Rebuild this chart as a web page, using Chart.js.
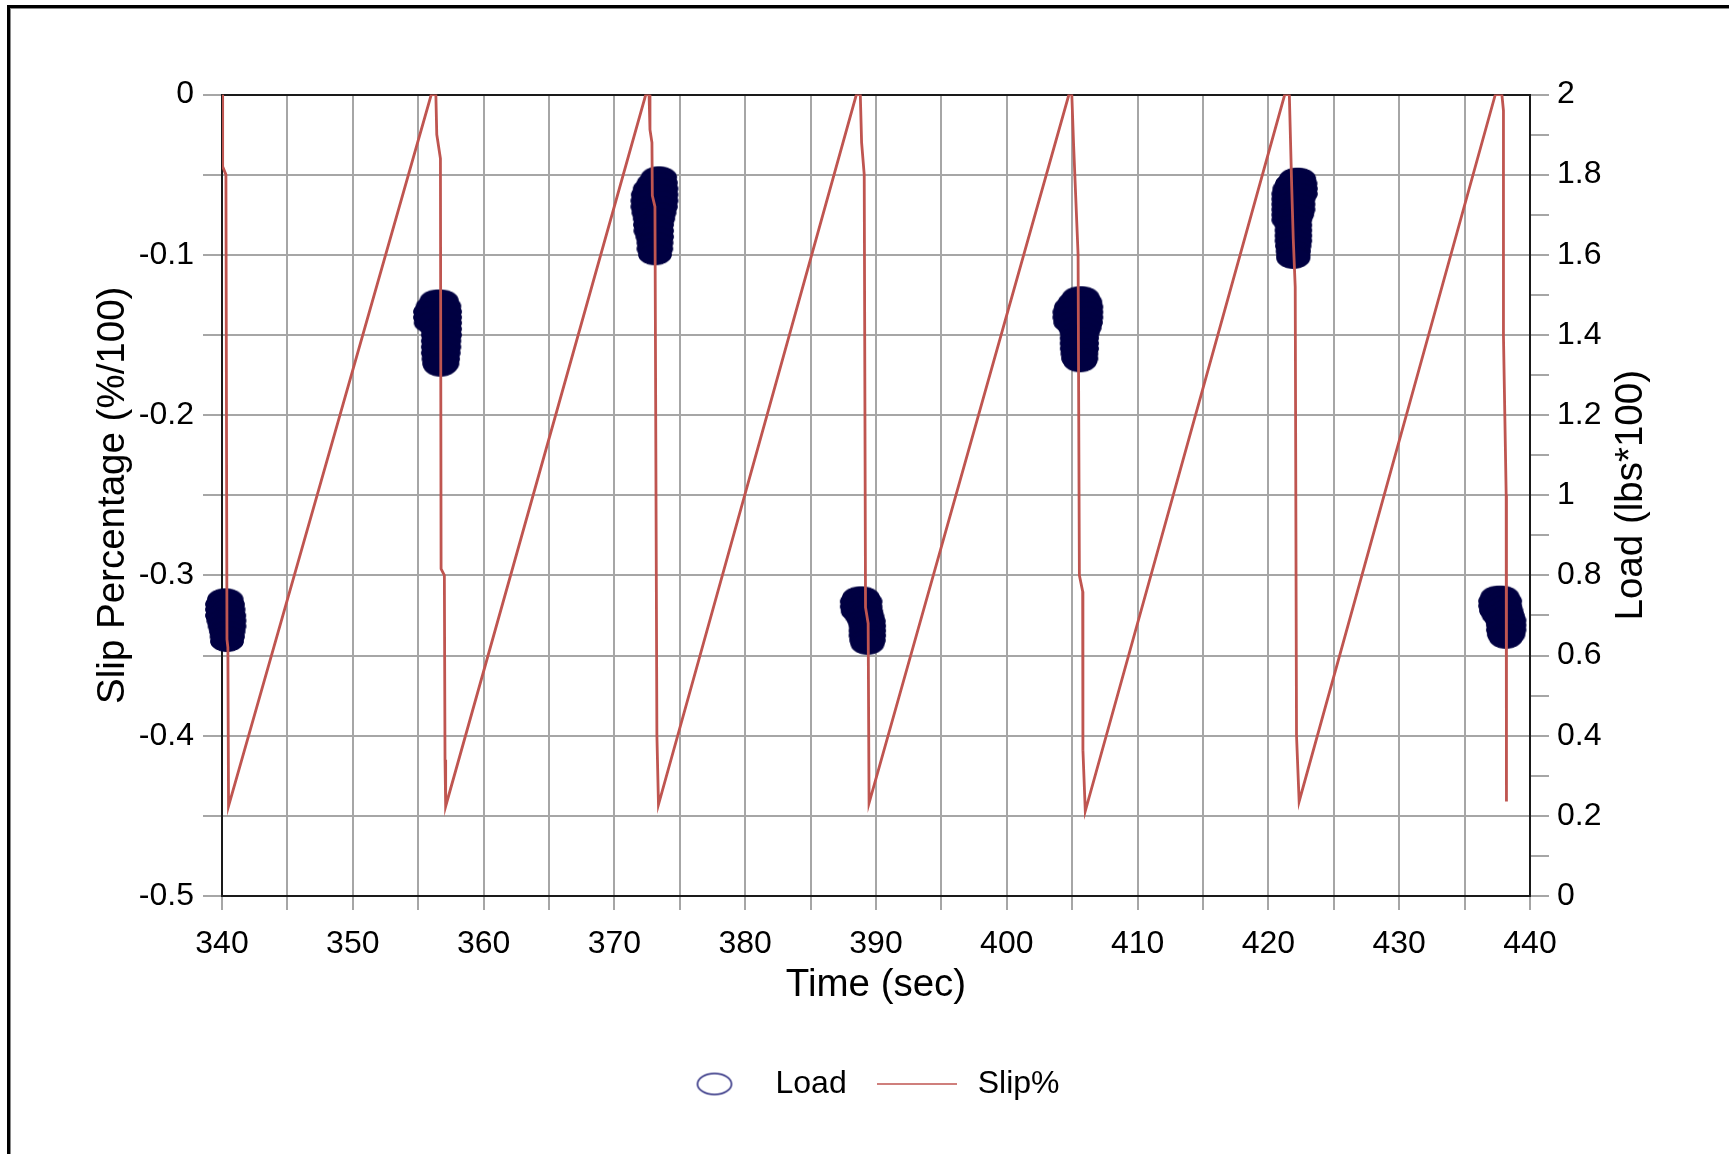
<!DOCTYPE html>
<html><head><meta charset="utf-8">
<script src="https://cdn.jsdelivr.net/npm/chart.js@4.4.1/dist/chart.umd.min.js"></script>
<style>
html,body{margin:0;padding:0;background:#fff;overflow:hidden;}
#wrap{position:relative;width:1729px;height:1154px;overflow:hidden;background:#fff;}
#c{position:absolute;left:0;top:0;}
.f1{position:absolute;left:7px;top:5px;width:3000px;height:3000px;border-left:3px solid #000;border-top:3px solid #000;}
.f2{position:absolute;left:10px;top:8px;width:3000px;height:3000px;border-left:1px solid #8a8a8a;border-top:1px solid #8a8a8a;}
</style></head>
<body><div id="wrap"><div class="f1"></div><div class="f2"></div><canvas id="c" width="1729" height="1154"></canvas></div>
<script>
// ---- Slip% series (time in sec, slip in %/100) ----
const slipTime = [
  340.00, 340.05, 340.30, 340.38, 340.45, 340.50,
  356.00, 356.35, 356.42, 356.70, 356.75, 357.00, 357.05, 357.10,
  372.40, 372.65, 372.72, 372.87, 372.90, 373.10, 373.25, 373.37,
  388.50, 388.80, 388.90, 389.10, 389.20, 389.40, 389.47,
  404.75, 404.97, 405.10, 405.45, 405.55, 405.80, 405.82, 406.00,
  421.25, 421.60, 421.78, 421.90, 422.05, 422.15, 422.35,
  437.35, 437.85, 437.97, 437.97, 438.18, 438.20
];
const slipValue = [
  0, -0.045, -0.05, -0.34, -0.345, -0.444,
  0, 0, -0.025, -0.04, -0.296, -0.30, -0.415, -0.444,
  0, 0, -0.022, -0.03, -0.063, -0.07, -0.40, -0.443,
  0, 0, -0.03, -0.05, -0.32, -0.33, -0.442,
  0, 0, -0.03, -0.10, -0.30, -0.31, -0.409, -0.447,
  0, 0, -0.057, -0.09, -0.12, -0.40, -0.441,
  0, 0, -0.01, -0.15, -0.25, -0.441
];

// ---- Load series (time in sec, load in lbs*100), seven clusters ----
const loadTime = [
  // cluster near 340 s
  340.15, 340.35, 340.0, 340.45, 340.0, 340.5, 340.0, 340.55, 340.1, 340.57, 340.2, 340.57,
  340.3, 340.5, 340.35, 340.45, 340.38,
  // cluster near 356.5 s
  356.4, 356.8, 356.1, 357.0, 355.9, 357.05, 355.9, 357.05, 355.95, 357.05, 356.45, 357.05,
  356.5, 357.05, 356.5, 357.0, 356.5, 357.0, 356.5, 356.95, 356.55, 356.9, 356.6, 356.85, 356.7,
  // cluster near 373 s
  373.3, 373.5, 373.0, 373.55, 372.7, 373.6, 372.55, 373.6, 372.52, 373.6, 372.52, 373.55,
  372.6, 373.45, 372.7, 373.35, 372.72, 373.26, 372.75, 373.26, 372.9, 373.26, 372.98, 373.22,
  372.98, 373.2, 373.1,
  // cluster near 389 s
  388.7, 389.0, 388.53, 389.2, 388.53, 389.2, 388.6, 389.25, 388.9, 389.35, 389.1, 389.45,
  389.2, 389.47, 389.2, 389.47, 389.2, 389.47, 389.25, 389.45, 389.35,
  // cluster near 405.5 s
  405.5, 405.8, 405.2, 406.0, 404.9, 406.08, 404.78, 406.08, 404.78, 406.08, 404.85, 406.05,
  405.2, 405.95, 405.34, 405.8, 405.34, 405.75, 405.34, 405.75, 405.35, 405.75, 405.4, 405.7,
  405.45, 405.7, 405.6,
  // cluster near 422 s
  422.1, 422.35, 421.8, 422.45, 421.6, 422.48, 421.52, 422.48, 421.52, 422.3, 421.52, 422.3,
  421.52, 422.3, 421.52, 422.2, 421.52, 422.05, 421.77, 422.05, 421.77, 422.05, 421.77, 422.05,
  421.77, 422.05, 421.8, 422.0, 421.85, 421.95, 421.9, 421.9, 421.9,
  // cluster near 438 s
  437.5, 437.9, 437.33, 438.1, 437.33, 438.1, 437.4, 438.2, 437.6, 438.3, 437.85, 438.43,
  437.93, 438.43, 437.93, 438.43, 438.0, 438.35, 438.15
];
const loadValue = [
  0.741, 0.741, 0.728, 0.728, 0.715, 0.715, 0.70, 0.70, 0.687, 0.687, 0.673, 0.673,
  0.66, 0.66, 0.647, 0.647, 0.635,
  1.487, 1.487, 1.472, 1.472, 1.458, 1.458, 1.444, 1.444, 1.43, 1.43, 1.415, 1.415,
  1.40, 1.40, 1.385, 1.385, 1.37, 1.37, 1.355, 1.355, 1.34, 1.34, 1.328, 1.328, 1.322,
  1.794, 1.794, 1.78, 1.78, 1.765, 1.765, 1.75, 1.75, 1.735, 1.735, 1.72, 1.72,
  1.705, 1.705, 1.69, 1.69, 1.675, 1.675, 1.66, 1.66, 1.645, 1.645, 1.63, 1.63,
  1.615, 1.615, 1.60,
  0.746, 0.746, 0.735, 0.735, 0.722, 0.722, 0.71, 0.71, 0.698, 0.698, 0.686, 0.686,
  0.674, 0.674, 0.662, 0.662, 0.65, 0.65, 0.638, 0.638, 0.628,
  1.495, 1.495, 1.483, 1.483, 1.47, 1.47, 1.457, 1.457, 1.444, 1.444, 1.431, 1.431,
  1.418, 1.418, 1.405, 1.405, 1.392, 1.392, 1.379, 1.379, 1.366, 1.366, 1.353, 1.353,
  1.341, 1.341, 1.333,
  1.791, 1.791, 1.778, 1.778, 1.765, 1.765, 1.752, 1.752, 1.739, 1.739, 1.726, 1.726,
  1.713, 1.713, 1.70, 1.70, 1.687, 1.687, 1.674, 1.674, 1.661, 1.661, 1.648, 1.648,
  1.635, 1.635, 1.622, 1.622, 1.609, 1.609, 1.60, 1.595, 1.591,
  0.748, 0.748, 0.736, 0.736, 0.724, 0.724, 0.712, 0.712, 0.70, 0.70, 0.688, 0.688,
  0.676, 0.676, 0.664, 0.664, 0.652, 0.652, 0.643
];

// ---- Tick labels ----
const timeTickValues = [340, 350, 360, 370, 380, 390, 400, 410, 420, 430, 440];
const timeTickLabels = ['340', '350', '360', '370', '380', '390', '400', '410', '420', '430', '440'];
const slipTickValues = [0, -0.1, -0.2, -0.3, -0.4, -0.5];
const slipTickLabels = ['0', '-0.1', '-0.2', '-0.3', '-0.4', '-0.5'];
const loadTickValues = [0, 0.2, 0.4, 0.6, 0.8, 1, 1.2, 1.4, 1.6, 1.8, 2];
const loadTickLabels = ['0', '0.2', '0.4', '0.6', '0.8', '1', '1.2', '1.4', '1.6', '1.8', '2'];
const loadAxisTitle = 'Load (lbs*100)';

const FONT = "'Liberation Sans', Arial, sans-serif";
const GRID = '#a6a6a6';
const AXIS = '#1a1a1a';
const SLIP_COLOR = '#bf5550';
const LOAD_COLOR = '#000042';

function lookup(vals, labels, v) {
  for (let i = 0; i < vals.length; i++) if (Math.abs(vals[i] - v) < 1e-6) return labels[i];
  return '';
}
function ellipseCanvas(w, h, rx, ry, fill, stroke, lw) {
  const c = document.createElement('canvas'); c.width = w; c.height = h;
  const g = c.getContext('2d');
  g.beginPath(); g.ellipse(w / 2, h / 2, rx, ry, 0, 0, Math.PI * 2);
  if (fill) { g.fillStyle = fill; g.fill(); }
  g.lineWidth = lw; g.strokeStyle = stroke; g.stroke();
  return c;
}
const markerImg = ellipseCanvas(36, 23, 16.5, 10, LOAD_COLOR, LOAD_COLOR, 1);
const legendMarker = ellipseCanvas(38, 25, 17, 10.5, null, '#23237a', 1.5);
const legendLine = (() => {
  const c = document.createElement('canvas'); c.width = 80; c.height = 4;
  const g = c.getContext('2d'); g.strokeStyle = SLIP_COLOR; g.lineWidth = 1.6;
  g.beginPath(); g.moveTo(0, 2); g.lineTo(80, 2); g.stroke(); return c;
})();

const tickFont = {family: FONT, size: 32};
const titleFont = {family: FONT, size: 38.5};

// right-axis title reads bottom-to-top, like the left one
const rightTitlePlugin = {
  id: 'rightTitle',
  afterDraw(chart) {
    const s = chart.scales.y2, ctx = chart.ctx;
    ctx.save();
    ctx.font = "38.5px 'Liberation Sans', Arial, sans-serif";
    ctx.fillStyle = '#000'; ctx.textAlign = 'center'; ctx.textBaseline = 'middle';
    ctx.translate(s.right - 98, (s.top + s.bottom) / 2);
    ctx.rotate(-Math.PI / 2);
    ctx.fillText(loadAxisTitle, 0, 0);
    ctx.restore();
  }
};

new Chart(document.getElementById('c'), {
  type: 'scatter',
  plugins: [rightTitlePlugin],
  data: {
    datasets: [
      {
        label: 'Slip%',
        data: slipTime.map((t, i) => ({x: t, y: slipValue[i]})),
        yAxisID: 'y', showLine: true, borderColor: SLIP_COLOR, borderWidth: 2.8,
        pointRadius: 0, pointHoverRadius: 0, tension: 0, fill: false
      },
      {
        label: 'Load',
        data: loadTime.map((t, i) => ({x: t, y: loadValue[i]})),
        yAxisID: 'y2', showLine: false, pointStyle: markerImg, pointRadius: 10,
        pointHoverRadius: 10, clip: false
      }
    ]
  },
  options: {
    responsive: false, animation: false, devicePixelRatio: 1,
    layout: {padding: {top: 94.5, left: 0, right: 0, bottom: 44}},
    events: [],
    plugins: {
      tooltip: {enabled: false},
      legend: {
        position: 'bottom',
        labels: {
          usePointStyle: true, pointStyleWidth: 90, padding: 25,
          font: tickFont, color: '#000',
          generateLabels: () => [
            {text: 'Load', pointStyle: legendMarker, datasetIndex: 1, hidden: false, fontColor: '#000', lineWidth: 0},
            {text: 'Slip%', pointStyle: legendLine, datasetIndex: 0, hidden: false, fontColor: '#000', lineWidth: 0}
          ]
        }
      }
    },
    scales: {
      x: {
        type: 'linear', position: 'bottom', min: 340, max: 440,
        ticks: {stepSize: 5, autoSkip: false, maxRotation: 0, padding: 15, font: tickFont, color: '#000',
          callback: v => lookup(timeTickValues, timeTickLabels, v)},
        grid: {color: c => (c.tick && c.tick.value === 440) ? AXIS : GRID, lineWidth: 2, tickLength: 14, tickColor: GRID},
        border: {display: true, color: AXIS, width: 2},
        title: {display: true, text: 'Time (sec)', font: titleFont, color: '#000', padding: {top: 0, bottom: 35}},
        afterFit: s => { s.height = 147; }
      },
      y: {
        type: 'linear', position: 'left', min: -0.5, max: 0,
        ticks: {stepSize: 0.05, autoSkip: false, padding: 9, font: tickFont, color: '#000',
          callback: v => lookup(slipTickValues, slipTickLabels, v)},
        grid: {color: c => (c.tick && Math.abs(c.tick.value) < 1e-9) ? AXIS : GRID, lineWidth: 2, tickLength: 19, tickColor: GRID},
        border: {display: true, color: AXIS, width: 2},
        title: {display: true, text: 'Slip Percentage (%/100)', font: titleFont, color: '#000', padding: {top: 90.5, bottom: 0}},
        afterFit: s => { s.width = 222; }
      },
      y2: {
        type: 'linear', position: 'right', min: 0, max: 2,
        ticks: {stepSize: 0.1, autoSkip: false, padding: 8, font: tickFont, color: '#000',
          callback: v => lookup(loadTickValues, loadTickLabels, v)},
        grid: {drawOnChartArea: false, lineWidth: 2, tickLength: 19, tickColor: GRID, color: GRID},
        border: {display: true, color: AXIS, width: 2},
        title: {display: false},
        afterFit: s => { s.width = 199; }
      }
    }
  }
});
</script></body></html>
